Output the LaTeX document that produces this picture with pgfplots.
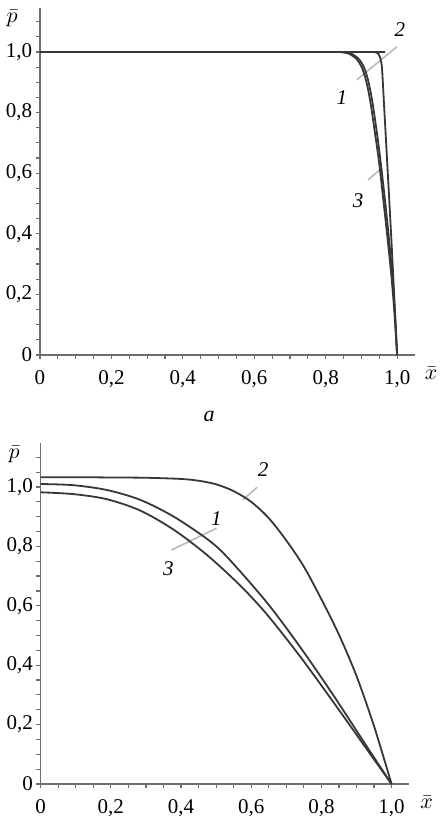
\documentclass[border=0pt]{standalone}
\usepackage{fontspec}
\setmainfont{Liberation Serif}
\usepackage{pgfplots}
\pgfplotsset{compat=1.18}
\definecolor{crv}{RGB}{55,55,55}
\definecolor{axc}{RGB}{110,110,110}
\definecolor{ldr}{RGB}{185,185,185}
\pgfplotsset{myax/.style={
  scale only axis, axis lines=left, axis line style={axc, line width=0.7pt, -},
  xmin=0, xmax=1.05, ymin=0,
  xtick={0,0.2,0.4,0.6,0.8,1.0},
  xticklabels={0,{0,2},{0,4},{0,6},{0,8},{1,0}},
  ytick={0,0.2,0.4,0.6,0.8,1.0},
  yticklabels={0,{0,2},{0,4},{0,6},{0,8},{1,0}},
  minor xtick={0.05,0.1,0.15,0.25,0.3,0.35,0.45,0.5,0.55,0.65,0.7,0.75,0.85,0.9,0.95},
  minor ytick={0.05,0.1,0.15,0.25,0.3,0.35,0.45,0.5,0.55,0.65,0.7,0.75,0.85,0.9,0.95,1.05,1.1},
  tick align=outside, major tick length=2.2pt, minor tick length=2.2pt,
  every tick/.style={axc, line width=0.6pt},
  tick label style={font=\fontsize{10.5}{12}\selectfont, inner sep=0pt},
  xticklabel style={anchor=north, yshift=-5.3pt},
  yticklabel style={anchor=east, xshift=-1.5pt},
  clip=false,
}}
\begin{document}
\begin{tikzpicture}
\path[use as bounding box] (0,0) rectangle (224pt,-408pt);
% ---------- top plot ----------
\begin{axis}[myax, at={(20pt,-177.5pt)}, anchor=south west,
  width=187.5pt, height=173.5pt, ymax=1.145]
\addplot[ldr, line width=0.8pt] coordinates {(0.887,0.908) (0.999,1.017)};
\addplot[ldr, line width=0.8pt] coordinates {(0.919,0.578) (0.957,0.617)};
\addplot[crv, line width=0.9pt, smooth, tension=0.5] coordinates {
(0,1) (0.8,1) (0.85,0.999) (0.87,0.995) (0.89,0.98) (0.905,0.955) (0.918,0.91) (0.93,0.84) (0.942,0.745) (0.953,0.645) (0.966,0.51) (0.977,0.385) (0.986,0.27) (0.993,0.155) (1,0)};
\addplot[crv, line width=0.9pt, smooth, tension=0.5] coordinates {
(0,1) (0.9,1) (0.935,1) (0.942,0.998) (0.948,0.993) (0.952,0.983) (0.955,0.968) (0.958,0.94) (0.965,0.79) (0.972,0.64) (0.978,0.51) (0.985,0.355) (0.992,0.19) (1,0)};
\addplot[crv, line width=0.9pt, smooth, tension=0.5] coordinates {
(0,1) (0.8,1) (0.845,0.999) (0.865,0.994) (0.885,0.978) (0.9,0.952) (0.913,0.906) (0.925,0.836) (0.937,0.74) (0.949,0.64) (0.962,0.505) (0.974,0.375) (0.984,0.26) (0.992,0.145) (1,0)};
\node[font=\fontsize{10.5}{12}\selectfont\itshape] at (axis cs:0.845,0.848) {1};
\node[font=\fontsize{10.5}{12}\selectfont\itshape] at (axis cs:1.008,1.073) {2};
\node[font=\fontsize{10.5}{12}\selectfont\itshape] at (axis cs:0.891,0.51) {3};
\node[font=\fontsize{11}{12}\selectfont] at (axis cs:-0.078,1.112) {$\bar{p}$};
\node[font=\fontsize{11}{12}\selectfont, anchor=base] at (axis cs:1.095,0) [yshift=-12.4pt] {$\bar{x}$};
\end{axis}
\node[font=\fontsize{11}{12}\selectfont\itshape] at (104.5pt,-208pt) {a};
% ---------- bottom plot ----------
\begin{axis}[myax, at={(20.35pt,-392pt)}, anchor=south west,
  width=184.2pt, height=170.5pt, ymax=1.148]
\addplot[ldr, line width=0.8pt] coordinates {(0.373,0.788) (0.501,0.861)};
\addplot[ldr, line width=0.8pt] coordinates {(0.576,0.957) (0.617,0.999)};
% curve 1
\addplot[crv, line width=0.9pt, smooth] coordinates {
(0,1.010) (0.093,1.006) (0.188,0.990) (0.283,0.957) (0.378,0.901) (0.473,0.826) (0.53,0.766) (0.644,0.612) (0.739,0.462) (0.834,0.299) (0.929,0.127) (1,0)};
% curve 2
\addplot[crv, line width=0.9pt, smooth] coordinates {
(0,1.033) (0.1,1.033) (0.2,1.032) (0.3,1.031) (0.4,1.027) (0.45,1.021) (0.5,1.009) (0.55,0.986) (0.6,0.950) (0.65,0.895) (0.7,0.820) (0.75,0.732) (0.8,0.622) (0.85,0.503) (0.9,0.364) (0.95,0.195) (1,0)};
% curve 3
\addplot[crv, line width=0.9pt, smooth] coordinates {
(0,0.982) (0.093,0.976) (0.188,0.959) (0.283,0.921) (0.378,0.857) (0.473,0.772) (0.568,0.669) (0.644,0.572) (0.739,0.430) (0.834,0.276) (0.929,0.118) (1,0)};
\node[font=\fontsize{10.5}{12}\selectfont\itshape] at (axis cs:0.501,0.895) {1};
\node[font=\fontsize{10.5}{12}\selectfont\itshape] at (axis cs:0.634,1.057) {2};
\node[font=\fontsize{10.5}{12}\selectfont\itshape] at (axis cs:0.364,0.726) {3};
\node[font=\fontsize{11}{12}\selectfont] at (axis cs:-0.076,1.108) {$\bar{p}$};
\node[font=\fontsize{11}{12}\selectfont, anchor=base] at (axis cs:1.10,0) [yshift=-12.4pt] {$\bar{x}$};
\end{axis}
\end{tikzpicture}
\end{document}
